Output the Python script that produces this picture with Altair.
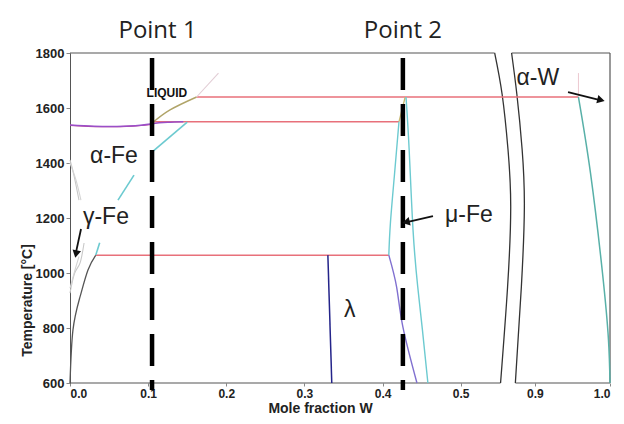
import altair as alt
import pandas as pd

# ---------------- axes ----------------
x_ticks = [0.0, 0.1, 0.2, 0.3, 0.4, 0.5, 0.9, 1.0]
t_ticks = [600, 800, 1000, 1200, 1400, 1600, 1800]
x_break_domain = [0.0, 0.565, 0.869, 1.0]   # broken axis: 0-0.565 | 0.869-1.0
x_break_range = [0, 441.5, 441.6, 540]
t_domain = [600, 1800]

# ---------------- phase boundaries (mole fraction W, temperature) ----------------
solvus_x = [0.0, 0.0038, 0.0128, 0.023, 0.033]
solvus_t = [600, 793, 913, 1011, 1065]

gamma_a_x = [0.0, 0.005, 0.0115]
gamma_a_t = [1411, 1356, 1265]
gamma_b_x = [0.0, 0.0077, 0.014]
gamma_b_t = [1400, 1338, 1265]
gamma_c_x = [0.0, 0.006, 0.0128, 0.018]
gamma_c_t = [927, 1000, 1036, 1109]
gamma_d_x = [0.0, 0.0064, 0.0115]
gamma_d_t = [945, 1011, 1060]

delta_x = [0.0, 0.03, 0.06, 0.09, 0.105, 0.125, 0.145]
delta_t = [1538, 1534, 1533, 1537, 1543, 1548, 1550]
delta2_x = [0.0, 0.04, 0.08, 0.105]
delta2_t = [1537, 1532, 1534, 1540]

liquidus_x = [0.105, 0.128, 0.162]
liquidus_t = [1545, 1593, 1640]
liquid_ext_x = [0.162, 0.19]
liquid_ext_t = [1640, 1727]

iso_low_x = [0.033, 0.408]
iso_low_t = [1065, 1065]
iso_mid_x = [0.105, 0.421]
iso_mid_t = [1550, 1550]
iso_high_x = [0.162, 0.958]
iso_high_t = [1640, 1640]

afe_seg1_x = [0.033, 0.038]
afe_seg1_t = [1065, 1110]
afe_seg2_x = [0.0614, 0.0819]
afe_seg2_t = [1265, 1356]
afe_seg3_x = [0.106, 0.150]
afe_seg3_t = [1442, 1549]

mu_liq_x = [0.421, 0.429]
mu_liq_t = [1550, 1640]
mu_left_x = [0.421, 0.415, 0.410, 0.408]
mu_left_t = [1550, 1350, 1180, 1065]
mu_right_x = [0.430, 0.434, 0.439, 0.445, 0.451, 0.458]
mu_right_t = [1640, 1450, 1156, 950, 793, 600]
mu_lam_x = [0.408, 0.418, 0.426, 0.444]
mu_lam_t = [1065, 949, 804, 600]
lam_x = [0.330, 0.335]
lam_t = [1065, 600]

aw_x = [0.958, 0.974, 0.990, 0.998, 1.0]
aw_t = [1640, 1364, 1000, 756, 600]
aw_ext_x = [0.958, 0.958]
aw_ext_t = [1640, 1727]

# ---------------- frame with axis break ----------------
brk_left_x = [0.5435, 0.5530, 0.5605, 0.5640, 0.5600, 0.5510]
brk_left_t = [1800, 1650, 1450, 1240, 950, 600]
brk_right_x = [0.869, 0.876, 0.883, 0.886, 0.882, 0.874]
brk_right_t = [1800, 1650, 1450, 1240, 950, 600]
top1_x = [0.0, 0.5435]
top2_x = [0.869, 1.0]
bot1_x = [0.0, 0.551]
bot2_x = [0.874, 1.0]
right_x = [1.0, 1.0]

# ---------------- points of interest ----------------
point_names = ["Point 1", "Point 2"]
point_x = [0.105, 0.426]
point_label_x = [0.112, 0.426]
point_t_top = 1782
point_t_bottom = 575
point_label_t = 1855

# ---------------- annotations ----------------
label_text = ["α-Fe", "γ-Fe", "μ-Fe", "α-W", "λ"]
label_x = [0.0563, 0.046, 0.5106, 0.904, 0.358]
label_t = [1425, 1204, 1211, 1709, 865]
liquid_text = ["LIQUID"]
liquid_x = [0.124]
liquid_t = [1655]

arrow_x0 = [0.0141, 0.4645, 0.9441]
arrow_t0 = [1160, 1207, 1658]
arrow_x1 = [0.0077, 0.4313, 0.9867]
arrow_t1 = [1076, 1185, 1629]
head_x = [0.0077, 0.430, 0.988]
head_t = [1069, 1185, 1629]
head_angle = [192, 257, 104]

# ---------------- chart ----------------
xscale = alt.Scale(domain=x_break_domain, range=x_break_range, nice=False, zero=False)
yscale = alt.Scale(domain=t_domain, nice=False, zero=False)
xaxis = alt.Axis(
    values=x_ticks, format=".1f", domain=False, grid=False,
    tickSize=3, tickColor="#888", labelFont="Liberation Sans", labelFontSize=12,
    labelFontWeight="bold", labelColor="#222", labelPadding=2,
    title="Mole fraction W", titleFont="Liberation Sans", titleFontSize=14,
    titleFontWeight="bold", titleColor="#222", titleX=250, titleY=25,
    titleBaseline="middle", titleAlign="center")
yaxis = alt.Axis(
    values=t_ticks, format="d", domain=True, domainColor="#555", grid=False,
    tickSize=4, tickColor="#888", labelFont="Liberation Sans", labelFontSize=13,
    labelFontWeight="bold", labelColor="#222", labelPadding=2,
    title="Temperature [°C]", titleFont="Liberation Sans", titleFontSize=14,
    titleFontWeight="bold", titleColor="#222", titleX=-43, titleY=247,
    titleAngle=270, titleBaseline="middle", titleAlign="center")
X = alt.X("x:Q", scale=xscale, axis=xaxis)
Y = alt.Y("t:Q", scale=yscale, axis=yaxis)


def path(xs, ts, color, width=1.3, dash=None, opacity=1.0, smooth=False):
    df = pd.DataFrame({"x": xs, "t": ts, "i": list(range(len(xs)))})
    kw = dict(color=color, strokeWidth=width, opacity=opacity, strokeCap="butt", clip=False)
    if dash:
        kw["strokeDash"] = dash
    if smooth:
        kw["interpolate"] = "natural"
    return alt.Chart(df).mark_line(**kw).encode(x=X, y=Y, order="i:Q")


frame = "#555555"
layers = [
    path(top1_x, [1800, 1800], frame, 1.2),
    path(top2_x, [1800, 1800], frame, 1.2),
    path(bot1_x, [600, 600], frame, 1.2),
    path(bot2_x, [600, 600], frame, 1.2),
    path(right_x, [600, 1800], frame, 1.2),
    path(brk_left_x, brk_left_t, "#333333", 1.3, smooth=True),
    path(brk_right_x, brk_right_t, "#333333", 1.3, smooth=True),
    # gamma loop
    path(gamma_a_x, gamma_a_t, "#c8c8c8", 1.1, smooth=True),
    path(gamma_b_x, gamma_b_t, "#d4d4d4", 1.1, smooth=True),
    path(gamma_c_x, gamma_c_t, "#c8c8c8", 1.1, smooth=True),
    path(gamma_d_x, gamma_d_t, "#d4d4d4", 1.1, smooth=True),
    path(solvus_x, solvus_t, "#555555", 1.3, smooth=True),
    # isotherms
    path(iso_low_x, iso_low_t, "#e8707a", 1.5),
    path(iso_mid_x, iso_mid_t, "#e8707a", 1.5),
    path(iso_high_x, iso_high_t, "#e8707a", 1.5),
    # Fe-rich liquid
    path(delta2_x, delta2_t, "#c0408f", 1.2, smooth=True),
    path(delta_x, delta_t, "#9a4fc8", 1.5, smooth=True),
    path(liquidus_x, liquidus_t, "#b0a468", 1.4, smooth=True),
    path(liquid_ext_x, liquid_ext_t, "#e2cdd5", 1.1),
    path(afe_seg1_x, afe_seg1_t, "#6ccad0", 1.6),
    path(afe_seg2_x, afe_seg2_t, "#6ccad0", 1.6),
    path(afe_seg3_x, afe_seg3_t, "#6ccad0", 1.6),
    # mu and lambda
    path(mu_liq_x, mu_liq_t, "#c8b870", 1.3),
    path(mu_left_x, mu_left_t, "#6ccad0", 1.4, smooth=True),
    path(mu_right_x, mu_right_t, "#6ccad0", 1.4, smooth=True),
    path(mu_lam_x, mu_lam_t, "#8070d0", 1.4, smooth=True),
    path(lam_x, lam_t, "#24248a", 1.5),
    # W side
    path(aw_x, aw_t, "#58b0a8", 1.5, smooth=True),
    path(aw_ext_x, aw_ext_t, "#ecc8d0", 1.0),
]

# dashed vertical lines for the points
for px in point_x:
    layers.append(path([px, px], [point_t_top, point_t_bottom], "#000000", 4.5, dash=[32, 14]))

# arrows
for i in range(len(arrow_x0)):
    layers.append(path([arrow_x0[i], arrow_x1[i]], [arrow_t0[i], arrow_t1[i]], "#111111", 1.8))
heads = pd.DataFrame({"x": head_x, "t": head_t, "a": head_angle})
layers.append(
    alt.Chart(heads).mark_point(shape="triangle-up", filled=True, size=75, color="#111111",
                                opacity=1, strokeWidth=0, clip=False)
    .encode(x=X, y=Y, angle=alt.Angle("a:Q", scale=None))
)

# text labels
lab = pd.DataFrame({"x": label_x, "t": label_t, "s": label_text})
layers.append(
    alt.Chart(lab).mark_text(font="Liberation Sans", fontSize=23, color="#222222",
                             align="center", baseline="middle", clip=False)
    .encode(x=X, y=Y, text="s:N")
)
liq = pd.DataFrame({"x": liquid_x, "t": liquid_t, "s": liquid_text})
layers.append(
    alt.Chart(liq).mark_text(font="Liberation Sans", fontSize=12, fontWeight="bold",
                             color="#111111", align="center", baseline="middle", clip=False)
    .encode(x=X, y=Y, text="s:N")
)
pts = pd.DataFrame({"x": point_label_x, "t": [point_label_t] * 2, "s": point_names})
layers.append(
    alt.Chart(pts).mark_text(font="Open Sans", fontSize=24, color="#222222",
                             align="center", baseline="alphabetic", clip=False)
    .encode(x=X, y=Y, text="s:N")
)

chart = alt.layer(*layers).properties(
    width=540, height=330,
    padding={"left": 62, "top": 45, "right": 6, "bottom": 33},
    autosize=alt.AutoSizeParams(type="none"),
    background="white",
).configure_view(stroke=None)

chart.save("out.html", embed_options={"renderer": "svg", "actions": False})
